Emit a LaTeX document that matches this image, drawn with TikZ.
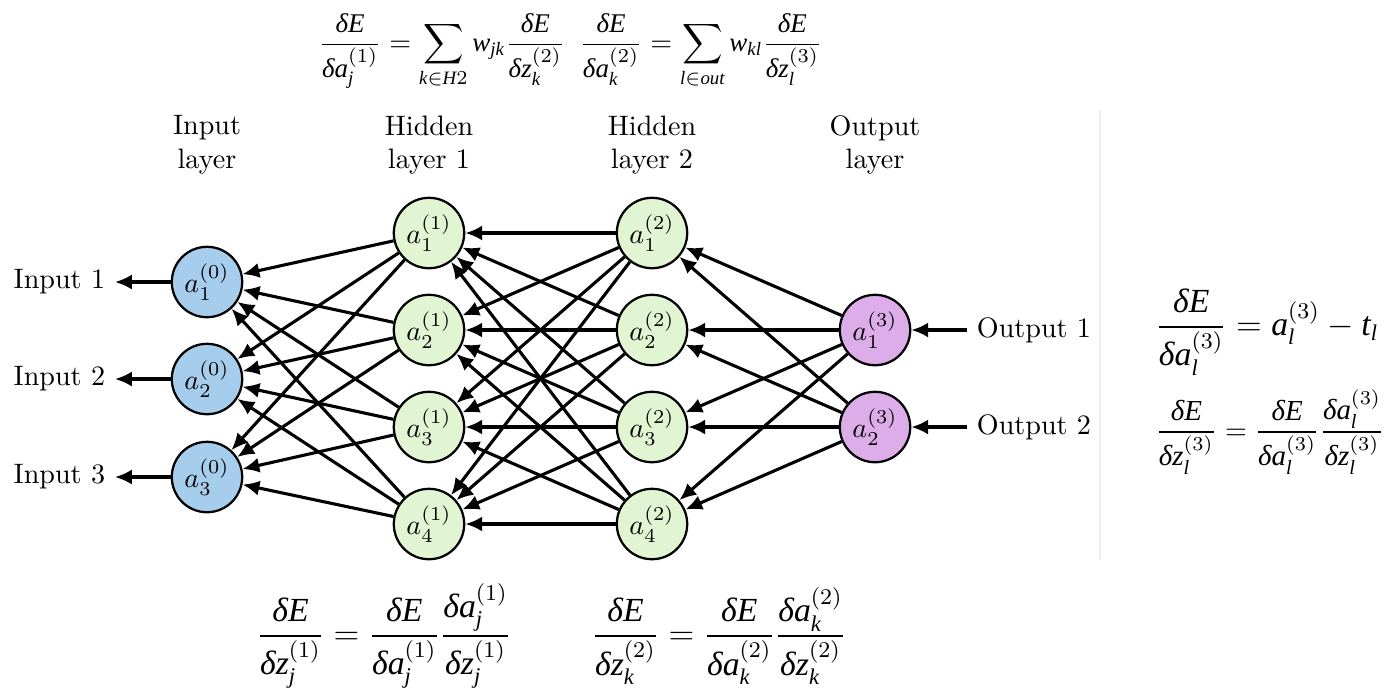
\documentclass[tikz,border=0pt]{standalone}
\usepackage{amsmath}
\usepackage{fontspec}
\usepackage{tikz}
\usetikzlibrary{arrows.meta}
\definecolor{skyblue}{RGB}{166, 206, 236}
\definecolor{palegreen}{RGB}{226, 245, 211}
\definecolor{lilac}{RGB}{221, 173, 234}
\definecolor{silver}{RGB}{236, 236, 236}

% Times-like letters for the gradient formulas
\newfontfamily\serifletters[NFSSFamily=libserif]{Liberation Serif}
\DeclareMathVersion{times}
\SetSymbolFont{operators}{times}{TU}{libserif}{m}{n}
\SetSymbolFont{letters}{times}{TU}{libserif}{m}{it}
\Umathchardef\tdelta="0 "1 "3B4
\newcommand{\timesmath}[1]{{\mathversion{times}#1}}
\newcommand{\dd}[2]{\frac{\tdelta #1}{\tdelta #2}}

\tikzset{
  neuron/.style={circle, draw=black, line width=0.8pt, minimum size=0.88cm, inner sep=0pt},
  backprop/.style={-{Latex[length=6pt, width=5.4pt]}, line width=1.1pt},
  formula/.style={inner sep=0pt},
}

\begin{document}
\begin{tikzpicture}[x=0.0125cm, y=-0.0125cm]
            \useasboundingbox (0,0) rectangle (1395,689);
            % Layer titles
            \node[align=center] (title0) at (207,145) {Input\\layer};
            \node[align=center] (title1) at (429,145) {Hidden\\layer 1};
            \node[align=center] (title2) at (652,145) {Hidden\\layer 2};
            \node[align=center] (title3) at (875,145) {Output\\layer};
            % Input layer
            \node[neuron, fill=skyblue]   (a0-1) at (207,282) {$a_1^{(0)}$};
            \node[neuron, fill=skyblue]   (a0-2) at (207,379) {$a_2^{(0)}$};
            \node[neuron, fill=skyblue]   (a0-3) at (207,477) {$a_3^{(0)}$};
            % Hidden layer 1
            \node[neuron, fill=palegreen] (a1-1) at (429,233) {$a_1^{(1)}$};
            \node[neuron, fill=palegreen] (a1-2) at (429,330) {$a_2^{(1)}$};
            \node[neuron, fill=palegreen] (a1-3) at (429,427) {$a_3^{(1)}$};
            \node[neuron, fill=palegreen] (a1-4) at (429,524) {$a_4^{(1)}$};
            % Hidden layer 2
            \node[neuron, fill=palegreen] (a2-1) at (652,233) {$a_1^{(2)}$};
            \node[neuron, fill=palegreen] (a2-2) at (652,330) {$a_2^{(2)}$};
            \node[neuron, fill=palegreen] (a2-3) at (652,427) {$a_3^{(2)}$};
            \node[neuron, fill=palegreen] (a2-4) at (652,524) {$a_4^{(2)}$};
            % Output layer
            \node[neuron, fill=lilac]     (a3-1) at (875,330) {$a_1^{(3)}$};
            \node[neuron, fill=lilac]     (a3-2) at (875,427) {$a_2^{(3)}$};
            % Inputs & outputs
            \node[anchor=east] (in1)  at (115,282) {Input 1};
            \node[anchor=east] (in2)  at (115,379) {Input 2};
            \node[anchor=east] (in3)  at (115,477) {Input 3};
            \node[anchor=west] (out1) at (967,330) {Output 1};
            \node[anchor=west] (out2) at (967,427) {Output 2};
            % Errors flowing backwards
            \foreach \i in {1,2,3} \draw[backprop] (a0-\i) -- (in\i);
            \foreach \o in {1,2} \draw[backprop] (out\o) -- (a3-\o);
            \foreach \j in {1,...,4} \foreach \i in {1,2,3} \draw[backprop] (a1-\j) -- (a0-\i);
            \foreach \k in {1,...,4} \foreach \j in {1,...,4} \draw[backprop] (a2-\k) -- (a1-\j);
            \foreach \m in {1,2} \foreach \k in {1,...,4} \draw[backprop] (a3-\m) -- (a2-\k);
            % Divider
            \coordinate (div-top) at (1100,110);
            \coordinate (div-bot) at (1100,560);
            \draw[silver, line width=0.6pt] (div-top) -- (div-bot);
            % Formulas
            \node[formula] (grad-a1) at (442,51) {\fontsize{9.6}{11}\selectfont\timesmath{$\displaystyle \dd{E}{a_j^{(1)}} = \sum_{k\in H2} w_{jk}\dd{E}{z_k^{(2)}}$}};
            \node[formula] (grad-a2) at (701,51) {\fontsize{9.6}{11}\selectfont\timesmath{$\displaystyle \dd{E}{a_k^{(2)}} = \sum_{l\in out} w_{kl}\dd{E}{z_l^{(3)}}$}};
            \node[formula, anchor=west] (grad-out) at (1155,332) {\large\timesmath{$\displaystyle \dd{E}{a_l^{(3)}} = a_l^{(3)} - t_l$}};
            \node[formula, anchor=west] (grad-zout) at (1155,432) {\fontsize{10.3}{12}\selectfont\timesmath{$\displaystyle \dd{E}{z_l^{(3)}} = \dd{E}{a_l^{(3)}}\dd{a_l^{(3)}}{z_l^{(3)}}$}};
            \node[formula] (grad-z1) at (384,636) {\large\timesmath{$\displaystyle \dd{E}{z_j^{(1)}} = \dd{E}{a_j^{(1)}}\dd{a_j^{(1)}}{z_j^{(1)}}$}};
            \node[formula] (grad-z2) at (719,636) {\large\timesmath{$\displaystyle \dd{E}{z_k^{(2)}} = \dd{E}{a_k^{(2)}}\dd{a_k^{(2)}}{z_k^{(2)}}$}};
\end{tikzpicture}
\end{document}
